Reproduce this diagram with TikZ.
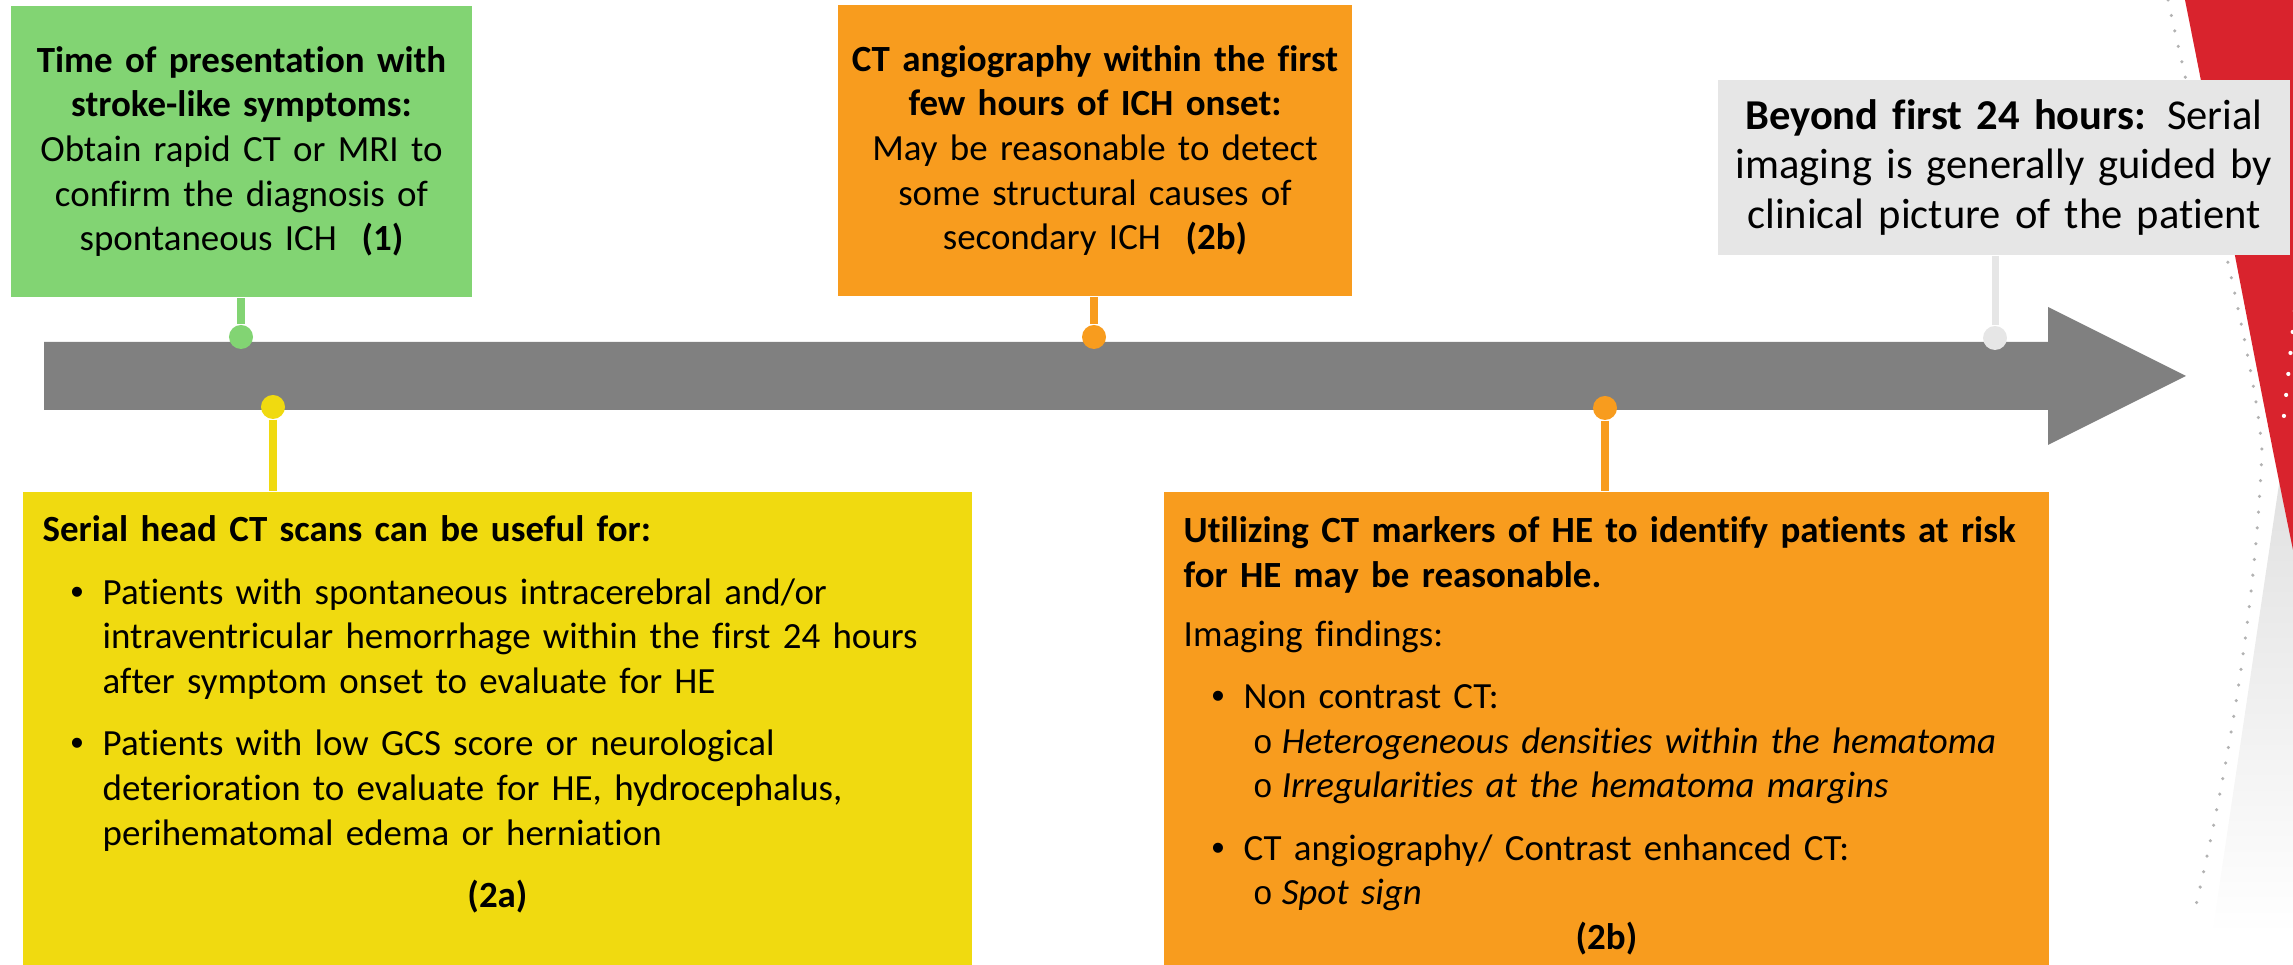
\documentclass[tikz,border=0pt]{standalone}
\usepackage{fontspec}
\setmainfont{Carlito}[Ligatures=NoCommon]
\newfontfamily\tlmono{Liberation Mono}
\newfontfamily\tlsans{Liberation Sans}
\usetikzlibrary{calc}

\definecolor{tlgreen}{HTML}{82D473}
\definecolor{tlyellow}{HTML}{F0DA10}
\definecolor{tlorange}{HTML}{F89C1E}
\definecolor{tlgrey}{HTML}{E6E6E6}
\definecolor{tlbar}{HTML}{808080}
\definecolor{tlred}{HTML}{D9232D}

% bullet and sub-bullet lines
\newcommand{\tlbul}[1]{\par\noindent\hangindent=0.6cm\hangafter=1\hspace*{0.28cm}\makebox[0.32cm][l]{\tlsans\textbullet}#1\par}
\newcommand{\tlsub}[1]{\par\noindent\hspace*{0.69cm}\makebox[0.29cm][l]{\tlmono\fontsize{9.5}{12.7}\selectfont o}\textit{#1}\par}

\begin{document}
\begin{tikzpicture}[x=0.01cm, y=-0.01cm,
    every node/.style={font=\fontsize{10.5}{12.7}\selectfont},
    box/.style={inner sep=0pt, align=center},
    dot/.style={circle, inner sep=0pt, minimum size=0.24cm},
    stem/.style={line width=2pt}]
  \useasboundingbox (0,0) rectangle (2293,965);

  % background
  \shade[top color=black!14, bottom color=white] (2293,390) -- (2212,935) -- (2293,935) -- cycle;
  \fill[tlred] (2185,0) .. controls (2225,200) and (2258,380) .. (2293,550) -- (2293,0) -- cycle;
  \draw[black!30, line width=1pt, line cap=round, dash pattern=on 0pt off 4.5pt] (2168,0) .. controls (2205,170) and (2255,360) .. (2262,450) .. controls (2256,600) and (2230,760) .. (2196,905);
  \draw[white, line width=1.2pt, line cap=round, dash pattern=on 0pt off 6pt] (2297,290) -- (2283,425);

  % timeline
  \fill[tlbar] (44,342) -- (2048,342) -- (2048,307) -- (2186,376) -- (2048,445) -- (2048,410) -- (44,410) -- cycle;

  \node[box, fill=tlgreen, minimum width=4.61cm, minimum height=2.91cm, text width=4.4cm] (present) at (241.5,151.5)
    {{\bfseries Time of presentation with\\ stroke-like symptoms:}\\ Obtain rapid CT or MRI to\\ confirm the diagnosis of\\ spontaneous ICH\ \ \textbf{(1)}};
  \node[box, fill=tlorange, minimum width=5.14cm, minimum height=2.91cm, text width=5cm] (angio) at (1095,150.5)
    {{\bfseries CT angiography within the first\\ few hours of ICH onset:}\\ May be reasonable to detect\\ some structural causes of\\ secondary ICH\ \ \textbf{(2b)}};
  \node[box, fill=tlgrey, minimum width=5.72cm, minimum height=1.75cm, text width=5.5cm, font=\fontsize{12.1}{14.2}\selectfont] (beyond) at (2004,167.5)
    {{\bfseries Beyond first 24 hours:} Serial\\ imaging is generally guided by\\ clinical picture of the patient};

  \node[fill=tlyellow, inner sep=0pt, minimum width=9.49cm, minimum height=4.74cm, anchor=north west] (serial) at (22,491) {};
  \node[text width=9.09cm, align=left, inner sep=0pt, anchor=base west] (serialtxt) at (42,542) {%
    {\bfseries Serial head CT scans can be useful for:}\par\vspace{5pt}
    \tlbul{Patients with spontaneous intracerebral and/or\newline intraventricular hemorrhage within the first 24 hours\newline after symptom onset to evaluate for HE}\vspace{5pt}
    \tlbul{Patients with low GCS score or neurological\newline deterioration to evaluate for HE, hydrocephalus,\newline perihematomal edema or herniation}\vspace{5pt}
    {\centering\bfseries (2a)\par}};

  \node[fill=tlorange, inner sep=0pt, minimum width=8.85cm, minimum height=4.74cm, anchor=north west] (markers) at (1163,491) {};
  \node[text width=8.45cm, align=left, inner sep=0pt, anchor=base west] (markerstxt) at (1183,543) {%
    {\bfseries Utilizing CT markers of HE to identify patients at risk\\ for HE may be reasonable.}\par\vspace{4pt}
    Imaging findings:\par\vspace{5pt}
    \tlbul{Non contrast CT:}
    \tlsub{Heterogeneous densities within the hematoma}
    \tlsub{Irregularities at the hematoma margins}\vspace{5pt}
    \tlbul{CT angiography/ Contrast enhanced CT:}
    \tlsub{Spot sign}
    {\centering\bfseries (2b)\par}};

  % markers on the timeline
  \node[dot, fill=tlgreen] (gdot) at (241,337) {};
  \node[dot, fill=tlyellow] (ydot) at (273,407) {};
  \node[dot, fill=tlorange] (otdot) at (1094,337) {};
  \node[dot, fill=tlorange] (obdot) at (1605,408) {};
  \node[dot, fill=tlgrey] (grdot) at (1995,338) {};

  \draw[stem, tlgreen] (gdot |- present.south) -- (gdot);
  \draw[stem, tlyellow] (ydot) -- (ydot |- serial.north);
  \draw[stem, tlorange] (otdot |- angio.south) -- (otdot);
  \draw[stem, tlorange] (obdot) -- (obdot |- markers.north);
  \draw[stem, tlgrey] (grdot |- beyond.south) -- (grdot);
\end{tikzpicture}
\end{document}
